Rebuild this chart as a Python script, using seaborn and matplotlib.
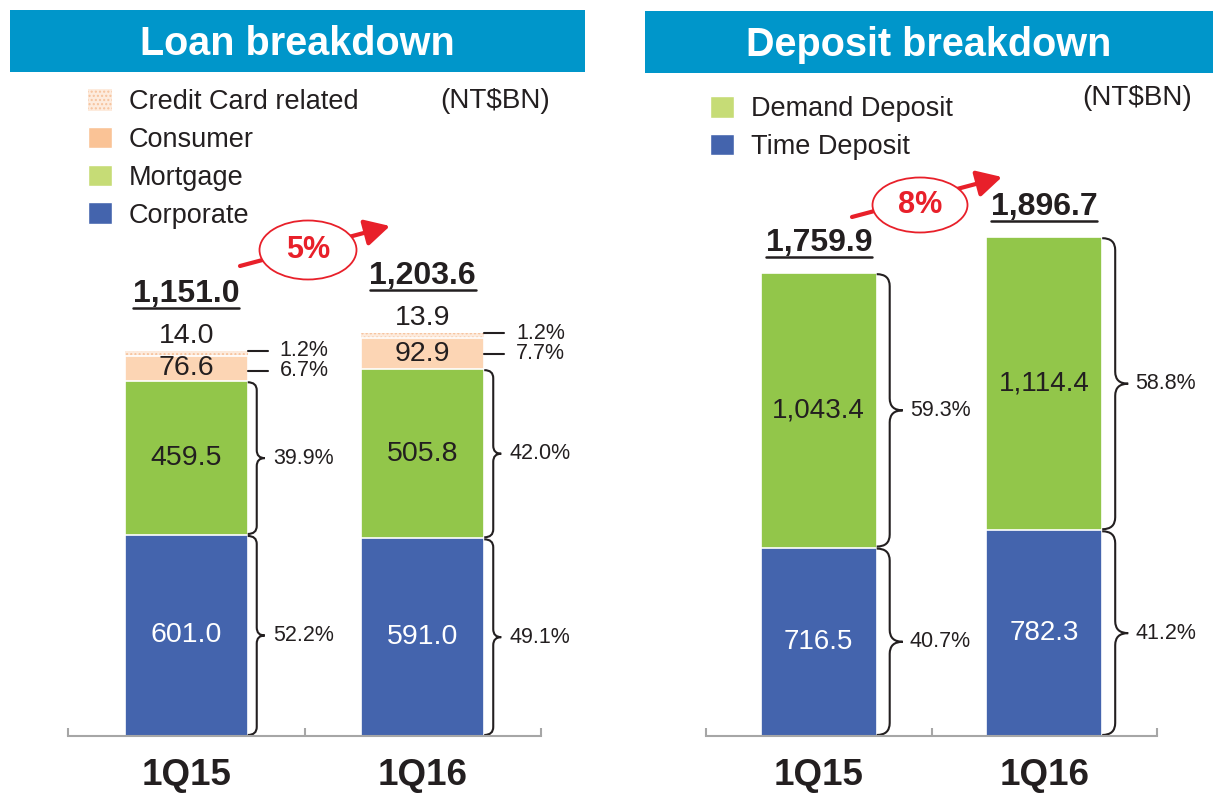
import matplotlib.pyplot as plt
import seaborn as sns
import pandas as pd
import numpy as np
from matplotlib.patches import Rectangle, Ellipse, Patch, FancyArrowPatch, PathPatch
from matplotlib.path import Path

# ---- data ----
quarters = ['1Q15', '1Q16']

loan_corporate = [601.0, 591.0]
loan_mortgage = [459.5, 505.8]
loan_consumer = [76.6, 92.9]
loan_credit_card = [14.0, 13.9]
loan_totals = [1151.0, 1203.6]

deposit_time = [716.5, 782.3]
deposit_demand = [1043.4, 1114.4]
deposit_totals = [1759.9, 1896.7]

# ---- style ----
sns.set_theme(style='white')
plt.rcParams['font.family'] = ['Liberation Sans', 'DejaVu Sans']

BLUE = '#4464AD'
GREEN = '#92C64A'
PEACH = '#FCD5B4'
CC_FACE = '#FDEBDD'
CC_HATCH = '#F6C29C'
TITLE_BLUE = '#0096CA'
RED = '#E8202A'
DARK = '#231F20'
GRID = '#A6A6A6'

W, H = 1213, 794
fig = plt.figure(figsize=(W / 100, H / 100), dpi=100)


def fx(x):
    return x / W


def fy(y):
    return 1 - y / H


ax1 = fig.add_axes([fx(68), fy(736), 473 / W, 636 / H])
ax2 = fig.add_axes([fx(706), fy(736), 451 / W, 636 / H])

# px per data unit for each panel
LOAN_SX, LOAN_SY = 236.5, 0.3345
DEP_SX, DEP_SY = 225.5, 0.263


def stacked(ax, layers, colors, width, hatches):
    """Stack by overlaying cumulative bars, tallest first."""
    cum = np.cumsum(np.array(layers), axis=0)
    for i in range(len(layers) - 1, -1, -1):
        df = pd.DataFrame({'quarter': quarters, 'value': cum[i]})
        kw = dict(edgecolor='white', linewidth=1.2)
        if hatches[i]:
            kw = dict(edgecolor=CC_HATCH, linewidth=0, hatch=hatches[i])
        sns.barplot(data=df, x='quarter', y='value', ax=ax, color=colors[i],
                    width=width, saturation=1, errorbar=None, **kw)
    return cum


def brace(ax, x0, y0, y1, stem, tip, r, sx, sy):
    xs = x0 + stem / sx
    xt = x0 + tip / sx
    ry = r / sy
    ym = (y0 + y1) / 2
    verts = [(x0, y0), (xs, y0), (xs, y0 + ry), (xs, ym - ry), (xs, ym), (xt, ym),
             (xs, ym), (xs, ym + ry), (xs, y1 - ry), (xs, y1), (x0, y1)]
    codes = [Path.MOVETO, Path.CURVE3, Path.CURVE3, Path.LINETO, Path.CURVE3, Path.CURVE3,
             Path.CURVE3, Path.CURVE3, Path.LINETO, Path.CURVE3, Path.CURVE3]
    ax.add_patch(PathPatch(Path(verts, codes), fill=False, lw=1.5,
                           edgecolor=DARK, clip_on=False))


def style_axis(ax, ymax):
    ax.set_xlim(-0.5, 1.5)
    ax.set_ylim(0, ymax)
    ax.set_xlabel('')
    ax.set_ylabel('')
    ax.set_yticks([])
    for s in ['top', 'left', 'right']:
        ax.spines[s].set_visible(False)
    ax.spines['bottom'].set_color(GRID)
    ax.spines['bottom'].set_linewidth(1.5)
    ax.set_xticks([0, 1])
    ax.set_xticklabels(quarters, fontsize=26.5, fontweight='bold', color=DARK)
    ax.set_xticks([-0.5, 0.5, 1.5], minor=True)
    ax.tick_params(axis='x', which='major', bottom=True, length=0, pad=16)
    ax.tick_params(axis='x', which='minor', bottom=True, direction='in', length=6,
                   width=1.5, color=GRID)


def total_label(ax, i, y, t, off, sx, sy):
    ax.annotate(f'{t:,.1f}', xy=(i, y), xytext=(0, off), textcoords='offset pixels',
                ha='center', va='center', fontsize=23, fontweight='bold', color=DARK)
    yl = y + (off - 14) / sy
    ax.plot([i - 53 / sx, i + 53 / sx], [yl, yl], color=DARK, lw=1.8, clip_on=False)


# ---- Loan panel ----
loan_layers = [loan_corporate, loan_mortgage, loan_consumer, loan_credit_card]
cum = stacked(ax1, loan_layers, [BLUE, GREEN, PEACH, CC_FACE], 0.52,
              [None, None, None, '....'])
style_axis(ax1, 636 / LOAN_SY)
half = 0.26
for i in range(2):
    tot = loan_totals[i]
    right = i + half
    bottoms = [0, cum[0][i], cum[1][i], cum[2][i]]
    # corporate and mortgage: value inside, brace + pct
    for k, col in [(0, 'white'), (1, DARK)]:
        v = loan_layers[k][i]
        y0, y1 = bottoms[k], bottoms[k] + v
        ax1.text(i, (y0 + y1) / 2, f'{v:,.1f}', ha='center', va='center',
                 fontsize=20.5, color=col)
        brace(ax1, right, y0 + 1 / LOAN_SY, y1 - 1 / LOAN_SY, 9, 17, 8, LOAN_SX, LOAN_SY)
        ax1.text(right + 25 / LOAN_SX, (y0 + y1) / 2, f'{v / tot * 100:.1f}%',
                 ha='left', va='center', fontsize=15.5, color=DARK)
    # consumer
    v = loan_consumer[i]
    mid = bottoms[2] + v / 2
    ax1.text(i, mid, f'{v:,.1f}', ha='center', va='center', fontsize=20.5, color=DARK)
    top = cum[3][i]
    yc = min(mid, top - 20 / LOAN_SY)
    ax1.plot([right, right + 20 / LOAN_SX], [yc, yc], color=DARK, lw=1.5, clip_on=False)
    ax1.text(right + 32 / LOAN_SX, yc, f'{v / tot * 100:.1f}%', ha='left', va='center',
             fontsize=15.5, color=DARK)
    # credit card
    v = loan_credit_card[i]
    ax1.annotate(f'{v:,.1f}', xy=(i, top), xytext=(0, 15), textcoords='offset pixels',
                 ha='center', va='center', fontsize=20.5, color=DARK)
    ax1.plot([right, right + 20 / LOAN_SX], [top, top], color=DARK, lw=1.5, clip_on=False)
    ax1.text(right + 32 / LOAN_SX, top, f'{v / tot * 100:.1f}%', ha='left', va='center',
             fontsize=15.5, color=DARK)
    total_label(ax1, i, top, tot, 57, LOAN_SX, LOAN_SY)

# ---- Deposit panel ----
dep_layers = [deposit_time, deposit_demand]
cum2 = stacked(ax2, dep_layers, [BLUE, GREEN], 0.514, [None, None])
style_axis(ax2, 636 / DEP_SY)
half = 0.257
for i in range(2):
    tot = deposit_totals[i]
    right = i + half
    bottoms = [0, cum2[0][i]]
    for k, col in [(0, 'white'), (1, DARK)]:
        v = dep_layers[k][i]
        y0, y1 = bottoms[k], bottoms[k] + v
        ax2.text(i, (y0 + y1) / 2, f'{v:,.1f}', ha='center', va='center',
                 fontsize=20, color=col)
        brace(ax2, right, y0 + 1 / DEP_SY, y1 - 1 / DEP_SY, 13, 26, 12, DEP_SX, DEP_SY)
        ax2.text(right + 33 / DEP_SX, (y0 + y1) / 2, f'{v / tot * 100:.1f}%',
                 ha='left', va='center', fontsize=15.5, color=DARK)
    total_label(ax2, i, cum2[1][i], tot, 30, DEP_SX, DEP_SY)

# ---- title bars ----
for (x0, y0, x1, y1, title) in [(10, 10, 585, 72, 'Loan breakdown'),
                                (645, 11, 1213, 73, 'Deposit breakdown')]:
    fig.add_artist(Rectangle((fx(x0), fy(y1)), (x1 - x0) / W, (y1 - y0) / H,
                             transform=fig.transFigure, facecolor=TITLE_BLUE,
                             edgecolor='none'))
    fig.text(fx((x0 + x1) / 2), fy((y0 + y1) / 2 + 3), title, ha='center', va='center',
             fontsize=28.5, fontweight='bold', color='white')

# ---- unit labels ----
fig.text(fx(495), fy(101), '(NT$BN)', ha='center', va='center', fontsize=20, color=DARK)
fig.text(fx(1137), fy(98), '(NT$BN)', ha='center', va='center', fontsize=20, color=DARK)

# ---- legends ----
loan_handles = [
    Patch(facecolor=CC_FACE, edgecolor=CC_HATCH, hatch='....', lw=0, label='Credit Card related'),
    Patch(facecolor='#FAC396', label='Consumer'),
    Patch(facecolor='#C6DC76', label='Mortgage'),
    Patch(facecolor=BLUE, label='Corporate'),
]
dep_handles = [
    Patch(facecolor='#C6DC76', label='Demand Deposit'),
    Patch(facecolor=BLUE, label='Time Deposit'),
]
leg_kw = dict(loc='upper left', frameon=False, fontsize=19.5, handlelength=0.9,
              handleheight=0.85, handletextpad=0.6, labelspacing=0.43,
              borderpad=0, borderaxespad=0, labelcolor=DARK)
fig.legend(handles=loan_handles, bbox_to_anchor=(fx(88), fy(89)), **leg_kw)
fig.legend(handles=dep_handles, bbox_to_anchor=(fx(710), fy(96)), **leg_kw)

# ---- growth callouts ----
loan_growth = (loan_totals[1] / loan_totals[0] - 1) * 100
dep_growth = (deposit_totals[1] / deposit_totals[0] - 1) * 100
for (tail, tipp, center, size, g) in [((240, 266), (390, 226), (308, 250), (97, 59), loan_growth),
                                      ((852, 217), (1002, 177), (920, 205), (95, 55), dep_growth)]:
    fig.add_artist(FancyArrowPatch((fx(tail[0]), fy(tail[1])), (fx(tipp[0]), fy(tipp[1])),
                                   transform=fig.transFigure,
                                   arrowstyle='-|>,head_length=0.75,head_width=0.4',
                                   mutation_scale=20, lw=3, color=RED,
                                   shrinkA=0, shrinkB=0))
    fig.add_artist(Ellipse((fx(center[0]), fy(center[1])), size[0] / W, size[1] / H,
                           transform=fig.transFigure, facecolor='white',
                           edgecolor=RED, lw=1.3))
    fig.text(fx(center[0]), fy(center[1]), f'{g:.0f}%', ha='center', va='center',
             fontsize=22, fontweight='bold', color=RED)

fig.savefig('out.png', dpi=100)
plt.close(fig)
